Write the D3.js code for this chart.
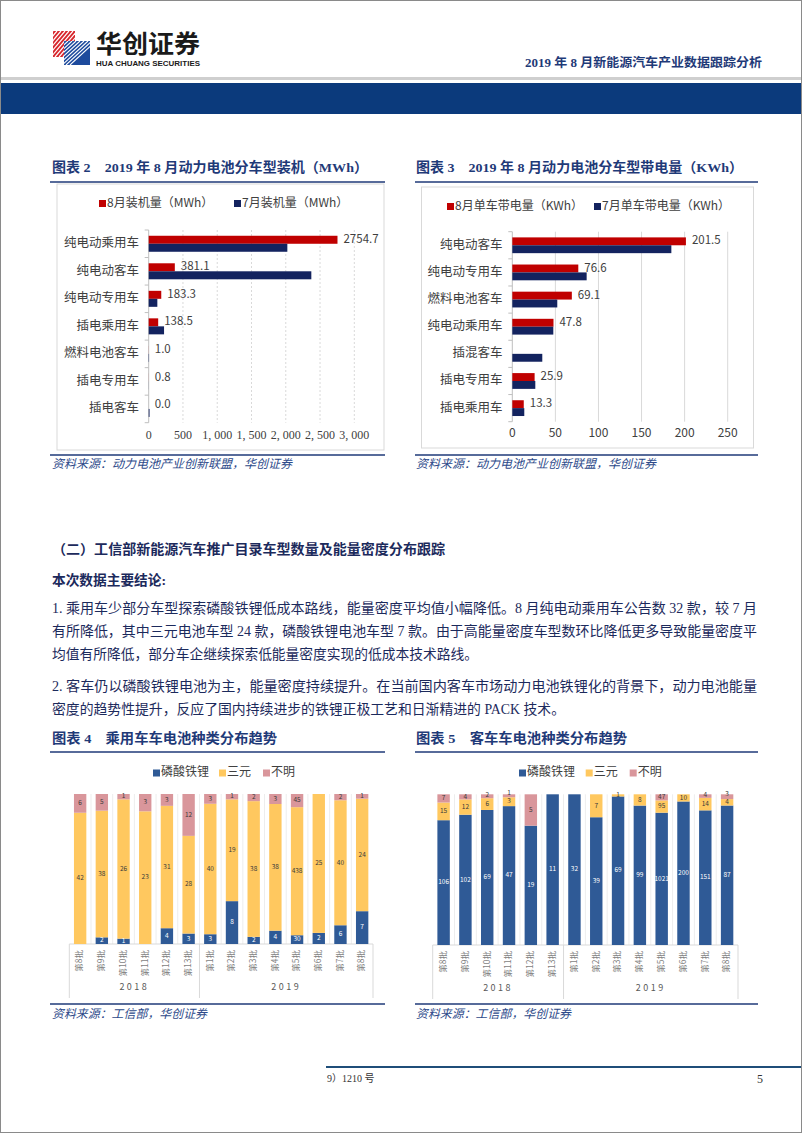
<!DOCTYPE html>
<html><head><meta charset="utf-8">
<script src="https://cdn.jsdelivr.net/npm/d3@7"></script>
<style>body{margin:0;background:#fff} svg{display:block}</style>
</head><body>
<svg id="c" width="802" height="1133"></svg>
<script>
// ---------- DATA ----------
const c2Cats = ["纯电动乘用车","纯电动客车","纯电动专用车","插电乘用车","燃料电池客车","插电专用车","插电客车"];
const c2Aug = [2754.7, 381.1, 183.3, 138.5, 1.0, 0.8, 0.0];
const c2Jul = [2023, 2373, 126, 224, 5, 1, 12];
const c2Ticks = [0,500,1000,1500,2000,2500,3000];
const c2TickLabels = ["0","500","1, 000","1, 500","2, 000","2, 500","3, 000"];

const c3Cats = ["纯电动客车","纯电动专用车","燃料电池客车","纯电动乘用车","插混客车","插电专用车","插电乘用车"];
const c3Aug = [201.5, 76.6, 69.1, 47.8, null, 25.9, 13.3];
const c3Jul = [184.6, 86.3, 52.2, 47.6, 34.8, 26.7, 13.9];
const c3Ticks = [0,50,100,150,200,250];

const batchLabels = ["第8批","第9批","第10批","第11批","第12批","第13批","第1批","第2批","第3批","第4批","第5批","第6批","第7批","第8批"];
const years = ["2018","2019"];
const yearSpan = [6, 8];
const c4LFP = [0,2,1,0,4,3,3,8,2,4,30,2,6,7];
const c4NCM = [42,38,26,23,31,28,40,19,38,38,438,25,40,24];
const c4Unk = [6,5,1,3,3,12,3,1,2,3,45,0,2,1];
const c5LFP = [106,102,69,47,19,11,32,39,69,99,1021,200,151,87];
const c5NCM = [15,12,6,3,0,0,0,7,1,8,95,10,14,4];
const c5Unk = [7,4,2,1,5,0,0,0,0,0,47,0,4,3];

// ---------- STYLE ----------
const RED = "#c00000", NAVY = "#13235f";
const LFP = "#2f5a96", NCM = "#ffc85f", UNK = "#d9969b";
const TITLE = "#1f3a78", BODY = "#1c2a5c";
const SANS = "'Noto Sans CJK SC','Noto Sans',sans-serif";
const SERIF = "'Liberation Serif','Noto Sans CJK SC',serif";

const svg = d3.select("#c");
function txt(g, x, y, s, o = {}) {
  const t = g.append("text").attr("x", x).attr("y", y).text(s)
    .attr("font-family", o.ff || SANS).attr("font-size", o.fs || 12)
    .attr("fill", o.fill || "#333").attr("dominant-baseline", o.db || "middle");
  if (o.fw) t.attr("font-weight", o.fw);
  if (o.anchor) t.attr("text-anchor", o.anchor);
  if (o.len) t.attr("textLength", o.len).attr("lengthAdjust", "spacingAndGlyphs");
  if (o.style) t.attr("font-style", o.style);
  if (o.ls) t.attr("letter-spacing", o.ls);
  return t;
}
function line(g, x1, y1, x2, y2, stroke, w = 1, dash) {
  const l = g.append("line").attr("x1", x1).attr("y1", y1).attr("x2", x2).attr("y2", y2)
    .attr("stroke", stroke).attr("stroke-width", w);
  if (dash) l.attr("stroke-dasharray", dash);
  return l;
}

// ---------- PAGE ----------
svg.append("rect").attr("x",0.5).attr("y",0.5).attr("width",801).attr("height",1132)
  .attr("fill","#fff").attr("stroke","#8a8a8a");

// logo
const lg = svg.append("g");
const defs = svg.append("defs");
defs.append("clipPath").attr("id","lr").append("rect").attr("x",53).attr("y",31).attr("width",22).attr("height",26);
defs.append("clipPath").attr("id","lb").append("rect").attr("x",64).attr("y",41).attr("width",26).attr("height",24);
lg.append("rect").attr("x",53).attr("y",31).attr("width",22).attr("height",26).attr("fill","#d7262c");
const rs = lg.append("g").attr("clip-path","url(#lr)");
d3.range(-30, 30, 4).forEach(d => line(rs, 53 + d, 57, 75 + d, 31, "#fff", 1.2));
lg.append("rect").attr("x",64).attr("y",41).attr("width",26).attr("height",24).attr("fill","#1d4a9c");
const bs = lg.append("g").attr("clip-path","url(#lb)");
d3.range(-30, 10, 4).forEach(d => line(bs, 64 + d, 65, 90 + d, 41, "#fff", 1.1));
txt(svg, 96, 46, "华创证券", {fs: 25, fw: "bold", fill: "#1a1a1a", len: 104});
txt(svg, 96, 64, "HUA CHUANG SECURITIES", {fs: 8, fw: "bold", fill: "#1a1a1a", len: 104, ff: "'Liberation Sans',sans-serif"});
txt(svg, 762, 64, "2019 年 8 月新能源汽车产业数据跟踪分析", {fs: 12.5, fw: "bold", fill: TITLE, anchor: "end", ff: SERIF, len: 237});
svg.append("rect").attr("x",1).attr("y",77).attr("width",800).attr("height",3).attr("fill","#cfcfcf");
svg.append("rect").attr("x",1).attr("y",83).attr("width",800).attr("height",31).attr("fill","#0b3a7c");

// ---------- CHART HELPERS ----------
function chartTitle(x, y, s, len, lx1, lx2, ly) {
  txt(svg, x, y, s, {fs: 13.5, fw: "bold", fill: TITLE, ff: SERIF, len: len});
  line(svg, lx1, ly, lx2, ly, TITLE, 1.5);
}
function source(x, y, s, len, lx1, lx2, ly) {
  line(svg, lx1, ly, lx2, ly, TITLE, 1.5);
  txt(svg, x, y, s, {fs: 12, fill: "#2d4a8a", style: "italic", len: len});
}
function legendSq(g, x, y, color, label, fs) {
  g.append("rect").attr("x", x).attr("y", y - 3.5).attr("width", 7).attr("height", 7).attr("fill", color);
  txt(g, x + 8, y, label, {fs: fs || 12, fill: "#404040"});
}

function hbar(opt) {
  const g = svg.append("g");
  g.append("rect").attr("x", opt.box[0]).attr("y", opt.box[1]).attr("width", opt.box[2]).attr("height", opt.box[3])
    .attr("fill", "none").attr("stroke", "#d9d9d9");
  const x = d3.scaleLinear().domain(opt.domain).range(opt.xr);
  const y = d3.scaleBand().domain(opt.cats).range(opt.yr);
  const sub = d3.scaleBand().domain(["a","j"]).range([0, y.bandwidth()]).paddingOuter(0.72);
  opt.ticks.forEach(t => { if (t > 0) line(g, x(t), opt.yr[0], x(t), opt.yr[1], "#d9d9d9", 1, opt.dash); });
  opt.ticks.forEach((t, i) => txt(g, x(t), opt.tickY, opt.tickLabels ? opt.tickLabels[i] : String(t),
    {fs: 12, anchor: "middle", fill: "#404040", ff: opt.tickFont}));
  line(g, x(0), opt.yr[0], x(0), opt.yr[1], "#bfbfbf");
  opt.cats.forEach(c => line(g, x(0) - 4, y(c), x(0), y(c), "#bfbfbf"));
  line(g, x(0) - 4, opt.yr[1], x(0), opt.yr[1], "#bfbfbf");
  opt.cats.forEach((c, i) => {
    txt(g, opt.labelX, y(c) + y.bandwidth() / 2, c, {fs: 12.5, anchor: "end", fill: "#404040"});
    if (opt.aug[i] !== null) {
      g.append("rect").attr("x", x(0)).attr("y", y(c) + sub("a")).attr("width", Math.max(0, x(opt.aug[i]) - x(0)))
        .attr("height", sub.bandwidth()).attr("fill", RED);
    }
    g.append("rect").attr("x", x(0)).attr("y", y(c) + sub("j")).attr("width", Math.max(0, x(opt.jul[i]) - x(0)))
      .attr("height", sub.bandwidth()).attr("fill", NAVY);
    if (opt.aug[i] !== null) {
      txt(g, x(opt.aug[i]) + 6, y(c) + sub("a") + sub.bandwidth() / 2, opt.aug[i].toFixed(1), {fs: 11.5, fill: "#404040"});
    }
  });
  legendSq(g, opt.leg[0], opt.leg[2], RED, opt.legLabels[0]);
  legendSq(g, opt.leg[1], opt.leg[2], NAVY, opt.legLabels[1]);
}

// ---------- CHART 2 ----------
chartTitle(52, 169, "图表 2　2019 年 8 月动力电池分车型装机（MWh）", 316, 50, 385, 182);
hbar({box: [57, 184, 327, 266], domain: [0, 3000], xr: [148.7, 354.3], yr: [230, 422.7], cats: c2Cats,
  aug: c2Aug, jul: c2Jul, ticks: c2Ticks, tickLabels: c2TickLabels, tickFont: SERIF, tickY: 436, labelX: 139,
  leg: [99, 234, 203.5], legLabels: ["8月装机量（MWh）", "7月装机量（MWh）"], dash: "2,2"});
source(52, 465, "资料来源：动力电池产业创新联盟，华创证券", 240, 50, 385, 455);

// ---------- CHART 3 ----------
chartTitle(416, 169, "图表 3　2019 年 8 月动力电池分车型带电量（KWh）", 327, 415, 758, 182);
hbar({box: [421.5, 187, 332, 261], domain: [0, 250], xr: [512.3, 727.7], yr: [231.7, 421.7], cats: c3Cats,
  aug: c3Aug, jul: c3Jul, ticks: c3Ticks, tickFont: SANS, tickY: 434, labelX: 502.5,
  leg: [447, 594, 206.5], legLabels: ["8月单车带电量（KWh）", "7月单车带电量（KWh）"]});
source(416, 465, "资料来源：动力电池产业创新联盟，华创证券", 240, 415, 758, 455);

// ---------- TEXT ----------
const tg = svg.append("g");
txt(tg, 52, 551, "（二）工信部新能源汽车推广目录车型数量及能量密度分布跟踪", {fs: 13.5, fw: "bold", fill: BODY, ff: SERIF, len: 393});
txt(tg, 52, 582, "本次数据主要结论:", {fs: 13.5, fw: "bold", fill: BODY, ff: SERIF, len: 114});
const bodyLines = [
  ["1. 乘用车少部分车型探索磷酸铁锂低成本路线，能量密度平均值小幅降低。8 月纯电动乘用车公告数 32 款，较 7 月", 610, 705],
  ["有所降低，其中三元电池车型 24 款，磷酸铁锂电池车型 7 款。由于高能量密度车型数环比降低更多导致能量密度平", 633, 705],
  ["均值有所降低，部分车企继续探索低能量密度实现的低成本技术路线。", 656, 426],
  ["2. 客车仍以磷酸铁锂电池为主，能量密度持续提升。在当前国内客车市场动力电池铁锂化的背景下，动力电池能量", 688, 705],
  ["密度的趋势性提升，反应了国内持续进步的铁锂正极工艺和日渐精进的 PACK 技术。", 711, 513]
];
bodyLines.forEach(d => txt(tg, 52, d[1], d[0], {fs: 14, fill: BODY, ff: SERIF, len: d[2]}));

// ---------- STACKED 100% CHARTS ----------
function stacked(opt) {
  const g = svg.append("g");
  const rows = batchLabels.map((b, i) => ({i: i, lfp: opt.lfp[i], ncm: opt.ncm[i], unk: opt.unk[i]}));
  const keys = ["lfp", "ncm", "unk"];
  const colors = {lfp: LFP, ncm: NCM, unk: UNK};
  const tcol = {lfp: "#ffffff", ncm: "#3a3a3a", unk: "#3a3a3a"};
  const series = d3.stack().keys(keys).offset(d3.stackOffsetExpand)(rows);
  const x = d3.scaleBand().domain(d3.range(batchLabels.length)).range(opt.xr).paddingInner(0.43).paddingOuter(0.215);
  const xs = d3.scaleBand().domain(d3.range(batchLabels.length)).range(opt.xr);
  const y = d3.scaleLinear().domain([0, 1]).range(opt.yr);
  d3.range(1, batchLabels.length).forEach(k => {
    const bx = opt.xr[0] + k * xs.step();
    line(g, bx, opt.yr[1], bx, opt.yr[0], "#ededed");
  });
  line(g, opt.xr[0], opt.yr[0], opt.xr[1], opt.yr[0], "#d9d9d9");
  let acc = 0;
  const bounds = [0];
  yearSpan.forEach(s => { acc += s; bounds.push(acc); });
  bounds.forEach(b => line(g, opt.xr[0] + b * xs.step(), opt.yr[0], opt.xr[0] + b * xs.step(), opt.yr[0] + 54, "#d9d9d9"));
  years.forEach((yr, k) => {
    const cx = opt.xr[0] + (bounds[k] + bounds[k + 1]) / 2 * xs.step();
    txt(g, cx, opt.yr[0] + 44, yr, {fs: 9, anchor: "middle", fill: "#595959", ls: "2.5px"});
  });
  series.forEach(s => {
    s.forEach((d, i) => {
      const h = y(d[0]) - y(d[1]);
      if (h <= 0) return;
      g.append("rect").attr("x", x(i)).attr("y", y(d[1])).attr("width", x.bandwidth()).attr("height", h)
        .attr("fill", colors[s.key]);
    });
  });
  // value labels, nudged upward when two small segments would collide
  batchLabels.forEach((b, i) => {
    let prevY = Infinity;
    series.forEach(s => {
      const d = s[i];
      const v = d.data[s.key];
      if (!v) return;
      let ly = (y(d[0]) + y(d[1])) / 2;
      if (prevY - ly < 8.5) ly = prevY - 8.5;
      prevY = ly;
      txt(g, x(i) + x.bandwidth() / 2, ly, String(v), {fs: 6.5, anchor: "middle", fill: tcol[s.key]});
    });
  });
  batchLabels.forEach((b, i) => {
    g.append("text").attr("transform", `translate(${x(i) + x.bandwidth() / 2},${opt.yr[0] + 6}) rotate(-90)`)
      .attr("text-anchor", "end").attr("dominant-baseline", "middle")
      .attr("font-family", SANS).attr("font-size", 8.5).attr("fill", "#7f7f7f").text(b);
  });
  legendSq(g, opt.leg[0], 773, LFP, "磷酸铁锂");
  legendSq(g, opt.leg[1], 773, NCM, "三元");
  legendSq(g, opt.leg[2], 773, UNK, "不明");
}

chartTitle(52, 740, "图表 4　乘用车车电池种类分布趋势", 225, 50, 385, 752);
stacked({lfp: c4LFP, ncm: c4NCM, unk: c4Unk, xr: [69.3, 373], yr: [944, 794], leg: [153, 219, 263]});
source(52, 1015, "资料来源：工信部，华创证券", 155, 50, 385, 1004);

chartTitle(416, 740, "图表 5　客车车电池种类分布趋势", 211, 415, 758, 752);
stacked({lfp: c5LFP, ncm: c5NCM, unk: c5Unk, xr: [432.7, 738], yr: [945, 794.3], leg: [519, 585.7, 629.7]});
source(416, 1015, "资料来源：工信部，华创证券", 155, 415, 758, 1004);

// ---------- FOOTER ----------
line(svg, 326, 1067, 801, 1067, "#1f4e79", 2);
txt(svg, 327, 1080, "9）1210 号", {fs: 10, fill: "#333", ff: SERIF});
txt(svg, 757, 1080, "5", {fs: 12, fill: "#333", ff: SERIF});
</script>
</body></html>
